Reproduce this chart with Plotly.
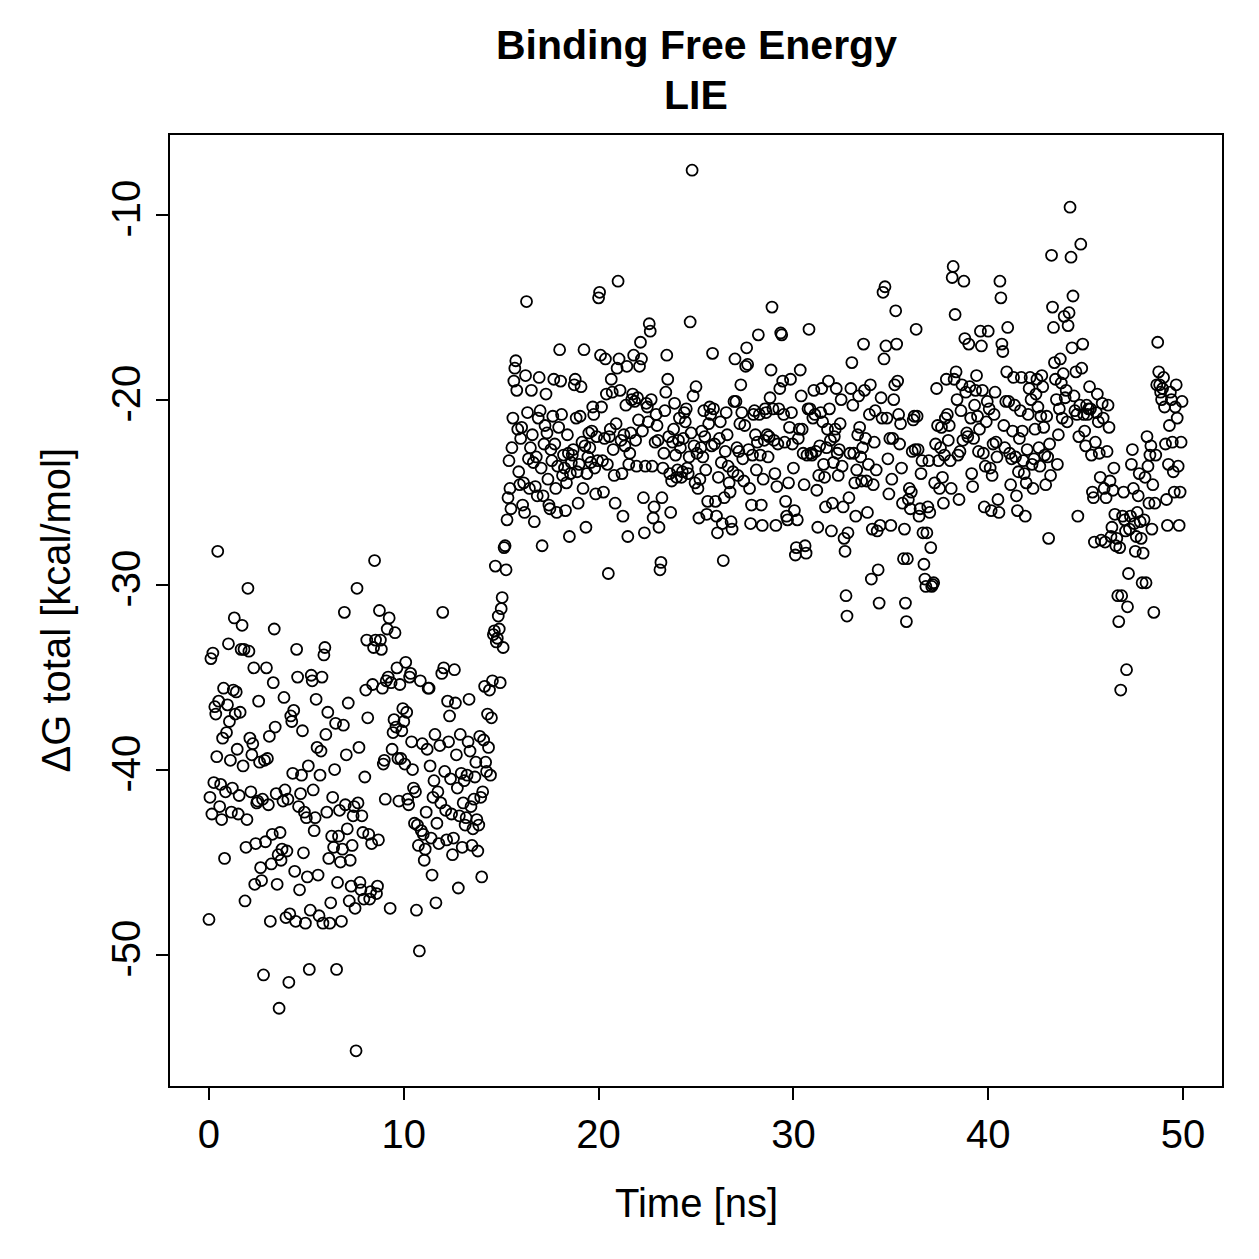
import plotly.graph_objects as go

# Binding free energy (kcal/mol), 20 samples per ns, rows = 1 ns each
dg_00_10 = [
    -48.1,-41.5,-34.0,-42.4,-33.7,-40.7,-36.6,-37.0,-39.3,-28.2,-36.3,-42.0,-40.8,-42.7,-38.3,-35.6,-44.8,-41.2,-38.0,-36.5,
    -33.2,-37.4,-39.5,-42.3,-41.0,-35.7,-31.8,-37.0,-35.8,-38.9,-42.4,-41.4,-36.9,-33.5,-32.2,-39.8,-33.5,-47.1,-44.2,-42.7,
    -30.2,-33.6,-38.3,-41.2,-39.2,-38.6,-34.5,-46.2,-44.0,-41.8,-41.7,-36.3,-39.6,-45.3,-46.0,-41.6,-51.1,-39.5,-43.9,-34.5,
    -39.4,-41.9,-38.2,-48.2,-45.1,-43.5,-35.3,-32.4,-37.7,-41.3,-46.2,-44.6,-52.9,-43.4,-44.9,-44.3,-41.7,-36.1,-41.1,-48.0,
    -44.4,-41.6,-51.5,-47.8,-37.1,-37.4,-40.2,-36.8,-45.5,-48.2,-33.5,-35.0,-42.0,-46.5,-41.3,-40.3,-37.9,-44.5,-42.3,-48.3,
    -42.6,-45.8,-39.8,-50.8,-47.6,-34.9,-35.2,-41.1,-43.3,-42.6,-36.2,-38.8,-45.7,-47.9,-40.3,-39.0,-35.0,-48.3,-33.8,-33.4,
    -38.1,-42.3,-36.9,-44.8,-48.3,-47.2,-43.6,-41.5,-44.2,-40.0,-37.5,-50.8,-46.1,-43.6,-42.2,-45.0,-48.2,-44.3,-37.6,-31.5,
    -41.9,-39.2,-43.2,-36.4,-47.1,-44.9,-46.3,-44.1,-42.5,-42.0,-47.5,-55.2,-30.2,-41.8,-38.8,-46.1,-46.5,-42.5,-43.4,-47.0,
    -40.4,-35.7,-33.0,-37.2,-43.5,-47.0,-46.6,-44.0,-35.4,-33.4,-28.7,-33.0,-46.7,-46.3,-43.8,-31.4,-33.0,-33.5,-35.6,-39.7,
    -39.5,-41.6,-35.2,-32.4,-35.0,-31.8,-47.5,-35.3,-38.9,-38.0,-37.3,-32.6,-37.7,-34.5,-39.4,-41.7,-35.4,-39.4,-37.9,-36.7,
]
dg_10_20 = [
    -37.4,-39.7,-34.2,-36.9,-41.6,-41.9,-35.0,-34.8,-38.5,-40.0,-41.0,-42.9,-41.2,-47.6,-43.0,-44.1,-49.8,-35.2,-43.3,-38.6,
    -43.5,-44.9,-44.3,-42.3,-38.9,-35.6,-35.6,-39.8,-43.7,-45.7,-41.5,-40.6,-38.1,-47.2,-42.9,-41.2,-44.0,-38.7,-41.8,-34.8,
    -31.5,-34.5,-40.1,-42.2,-43.8,-36.3,-38.5,-37.1,-40.5,-42.4,-44.6,-43.7,-34.6,-36.4,-39.2,-41.0,-46.4,-42.5,-38.1,-40.2,
    -44.2,-41.8,-40.6,-43.0,-42.6,-40.3,-38.5,-36.2,-39.0,-42.0,-44.1,-43.2,-41.6,-40.4,-39.6,-42.7,-44.4,-43.0,-38.2,-41.5,
    -45.8,-41.2,-38.4,-35.5,-39.6,-40.1,-37.0,-38.8,-35.7,-40.3,-37.2,-35.2,-32.7,-32.5,-29.0,-33.1,-32.9,-31.7,-32.4,-35.3,
    -31.3,-30.7,-33.4,-28.0,-27.9,-29.2,-26.5,-25.3,-23.3,-24.8,-25.9,-22.6,-21.0,-19.0,-18.3,-17.9,-19.5,-21.6,-23.9,-24.6,
    -22.1,-21.5,-25.7,-24.5,-26.1,-18.7,-14.7,-20.7,-23.2,-24.8,-22.6,-19.5,-21.9,-23.4,-26.6,-24.7,-23.1,-25.2,-21.0,-18.8,
    -20.6,-23.7,-27.9,-25.2,-22.4,-21.4,-19.7,-21.8,-24.3,-25.7,-25.9,-22.7,-23.3,-20.9,-18.9,-22.4,-24.8,-26.1,-23.6,-21.5,
    -17.3,-19.0,-20.8,-24.1,-23.0,-23.7,-26.0,-24.5,-21.9,-22.9,-27.4,-24.0,-23.4,-23.0,-22.7,-19.2,-18.9,-21.0,-23.9,-25.6,
    -23.5,-20.9,-19.3,-22.3,-24.8,-17.3,-22.5,-26.9,-24.0,-23.1,-21.8,-22.6,-23.4,-21.7,-20.4,-20.8,-23.7,-25.1,-22.0,-23.3,
]
dg_20_30 = [
    -14.5,-14.2,-17.6,-20.4,-23.3,-25.0,-22.1,-17.8,-19.7,-23.5,-29.4,-22.0,-21.6,-18.9,-19.6,-22.7,-24.1,-25.6,-21.3,-18.3,
    -13.6,-17.8,-19.5,-22.2,-24.0,-26.3,-21.9,-22.5,-20.3,-18.2,-27.4,-23.5,-22.9,-21.8,-20.0,-19.7,-17.6,-20.1,-22.2,-23.6,
    -19.9,-21.1,-18.2,-16.9,-17.8,-21.7,-25.3,-27.2,-23.6,-20.2,-20.4,-21.2,-15.9,-16.3,-20.0,-23.6,-26.4,-25.8,-22.3,-20.8,
    -21.4,-22.2,-26.9,-29.2,-28.8,-25.3,-23.7,-22.9,-20.6,-19.6,-17.6,-18.9,-22.0,-24.0,-26.1,-24.4,-22.3,-21.6,-20.2,-23.0,
    -24.2,-23.8,-22.2,-21.0,-22.6,-24.2,-23.9,-22.1,-20.7,-21.2,-20.5,-23.7,-24.0,-23.1,-15.8,-21.8,-7.6,-19.8,-22.5,-24.5,
    -19.3,-22.9,-24.8,-26.4,-24.3,-22.6,-21.7,-23.1,-20.6,-22.0,-23.8,-26.2,-25.5,-21.3,-20.4,-20.8,-22.5,-17.5,-20.5,-22.4,
    -25.5,-26.3,-27.2,-24.2,-22.1,-21.2,-23.4,-26.7,-28.7,-25.3,-22.8,-20.7,-21.9,-23.6,-24.5,-25.0,-26.6,-27.0,-23.9,-20.1,
    -17.8,-20.1,-22.6,-24.1,-22.8,-21.3,-19.2,-20.7,-23.2,-24.4,-21.4,-18.2,-17.2,-18.1,-22.7,-24.8,-26.7,-25.7,-23.0,-20.8,
    -20.6,-21.9,-23.8,-22.3,-16.5,-20.8,-23.0,-25.7,-26.8,-24.3,-22.2,-20.5,-20.7,-21.9,-23.1,-22.0,-19.9,-18.4,-15.0,-20.5,
    -22.2,-24.0,-26.8,-24.7,-22.4,-20.5,-19.4,-16.4,-16.5,-19.0,-20.8,-22.3,-25.5,-26.3,-26.5,-24.5,-21.5,-18.9,-20.7,-22.4,
]
dg_30_40 = [
    -23.7,-26.0,-28.4,-28.0,-26.5,-22.1,-21.6,-18.4,-19.8,-21.6,-22.9,-24.6,-27.9,-28.3,-23.0,-20.5,-16.2,-20.5,-22.9,-23.0,
    -21.0,-19.5,-20.8,-22.8,-24.9,-26.9,-24.1,-22.5,-20.7,-19.4,-21.2,-23.5,-24.2,-25.8,-22.6,-21.6,-19.0,-20.5,-22.2,-27.1,
    -25.6,-23.4,-22.0,-21.6,-19.4,-22.9,-24.1,-22.7,-21.3,-20.0,-23.6,-25.8,-27.5,-28.2,-30.6,-31.7,-27.2,-25.3,-22.9,-19.4,
    -18.0,-20.3,-22.9,-24.5,-26.3,-23.8,-21.9,-19.8,-21.5,-23.1,-24.4,-22.6,-17.0,-19.5,-22.1,-24.4,-26.1,-23.5,-20.8,-19.2,
    -29.7,-27.0,-24.6,-22.3,-20.6,-23.8,-27.1,-29.2,-31.0,-26.8,-19.9,-21.0,-14.2,-17.8,-13.9,-17.1,-21.0,-23.2,-25.1,-22.1,
    -26.8,-24.3,-22.1,-20.0,-19.2,-15.2,-17.0,-19.0,-20.8,-22.4,-21.3,-23.7,-25.6,-28.6,-27.0,-31.0,-32.0,-28.6,-25.4,-24.8,
    -25.9,-25.0,-22.8,-21.1,-20.9,-22.7,-16.2,-20.9,-22.7,-26.3,-25.9,-24.0,-23.3,-27.2,-28.9,-29.7,-30.1,-27.2,-25.8,-23.3,
    -26.1,-28.0,-30.1,-30.0,-29.9,-24.5,-22.4,-19.4,-21.4,-23.3,-24.8,-22.6,-21.5,-24.2,-25.6,-23.0,-21.0,-18.9,-20.8,-22.2,
    -21.4,-23.3,-24.8,-13.4,-12.8,-18.9,-15.4,-18.5,-20.0,-23.0,-25.4,-22.8,-20.6,-19.2,-22.2,-13.6,-16.7,-19.6,-21.8,-22.0,
    -17.0,-19.3,-21.0,-24.0,-24.7,-22.1,-20.3,-19.5,-18.7,-20.9,-22.8,-21.6,-16.3,-17.1,-19.5,-22.9,-25.8,-23.6,-21.2,-20.1,
]
dg_40_50 = [
    -16.3,-20.5,-23.7,-26.0,-24.1,-22.4,-20.8,-19.6,-22.3,-23.1,-25.4,-26.1,-13.6,-14.5,-17.0,-17.4,-21.4,-22.6,-20.1,-18.5,
    -16.1,-20.1,-22.9,-24.6,-23.2,-21.7,-18.8,-20.3,-23.1,-25.2,-26.0,-23.9,-22.1,-20.6,-18.8,-21.7,-23.3,-24.0,-26.3,-24.5,
    -22.7,-20.8,-19.4,-18.8,-20.0,-23.5,-24.8,-23.2,-21.6,-19.7,-18.9,-20.4,-22.6,-23.6,-20.9,-18.7,-19.3,-21.5,-23.0,-24.6,
    -20.9,-23.1,-27.5,-22.4,-24.1,-12.2,-15.0,-16.1,-18.0,-18.9,-20.0,-23.5,-21.9,-20.5,-17.8,-19.1,-21.0,-18.6,-15.5,-19.9,
    -19.5,-21.2,-16.0,-15.3,-9.6,-12.3,-17.2,-14.4,-19.8,-20.6,-18.5,-20.8,-26.3,-22.0,-20.3,-11.6,-18.3,-17.0,-20.8,-21.7,
    -22.5,-20.3,-20.8,-20.5,-19.3,-20.5,-23.0,-25.0,-25.3,-27.7,-22.3,-20.7,-19.7,-21.2,-22.9,-24.2,-27.6,-20.2,-21.0,-24.8,
    -27.7,-25.3,-22.8,-20.3,-21.5,-24.4,-27.4,-26.9,-24.9,-23.7,-26.2,-27.9,-27.5,-30.6,-32.0,-28.0,-35.7,-30.6,-26.3,-25.0,
    -26.5,-27.1,-34.6,-31.2,-29.4,-27.0,-26.3,-23.5,-22.7,-24.8,-26.7,-28.2,-27.4,-26.1,-25.2,-24.0,-26.6,-27.5,-29.9,-28.3,
    -26.5,-24.2,-29.9,-22.0,-23.6,-25.6,-23.0,-22.5,-27.0,-24.6,-31.5,-25.6,-23.0,-19.2,-16.9,-18.5,-19.2,-19.6,-20.0,-19.4,
    -18.8,-20.4,-22.4,-25.4,-26.8,-23.5,-21.4,-19.6,-20.0,-22.3,-23.9,-25.0,-20.4,-19.2,-21.0,-23.6,-26.8,-25.0,-22.3,-20.1,
]
dg_total = dg_00_10 + dg_10_20 + dg_20_30 + dg_30_40 + dg_40_50
sample_step_ns = 0.05
time_ns = [round(i * sample_step_ns, 2) for i in range(len(dg_total))]

x_ticks = [0, 10, 20, 30, 40, 50]
y_ticks = [-50, -40, -30, -20, -10]

ymin, ymax = min(dg_total), max(dg_total)
pad = 0.04 * (ymax - ymin)

FONT = "Liberation Sans, Arial, Helvetica, sans-serif"

fig = go.Figure(go.Scatter(
    x=time_ns, y=dg_total, mode="markers",
    marker=dict(symbol="circle-open", size=11, color="black", line=dict(width=1.8, color="black")),
    showlegend=False,
))

L, R, T, B = 170, 37, 135, 173
W = H = 1259
pw, ph = W - L - R, H - T - B

fig.update_layout(
    width=W, height=H,
    margin=dict(l=L, r=R, t=T, b=B, autoexpand=False),
    plot_bgcolor="white", paper_bgcolor="white",
    font=dict(family=FONT, color="black", size=40),
    xaxis=dict(range=[-2, 52], tickvals=x_ticks, ticktext=[str(v) for v in x_ticks],
               showgrid=False, zeroline=False, showline=True, mirror=True,
               linecolor="black", linewidth=2, ticks="outside", ticklen=12, tickwidth=2,
               tickcolor="black", tickfont=dict(size=40, family=FONT)),
    yaxis=dict(range=[ymin - pad, ymax + pad], tickvals=y_ticks, ticktext=[str(v) for v in y_ticks],
               showgrid=False, zeroline=False, showline=True, mirror=True,
               linecolor="black", linewidth=2, ticks="outside", ticklen=12, tickwidth=2,
               tickcolor="black", tickangle=-90, tickfont=dict(size=40, family=FONT)),
    annotations=[
        dict(text="<b>Binding Free Energy</b>", xref="paper", yref="paper", x=0.5,
             y=(H - B - 45) / ph, yanchor="middle", showarrow=False, font=dict(size=41, family=FONT)),
        dict(text="<b>LIE</b>", xref="paper", yref="paper", x=0.5,
             y=(H - B - 95) / ph, yanchor="middle", showarrow=False, font=dict(size=41, family=FONT)),
        dict(text="Time [ns]", xref="paper", yref="paper", x=0.5,
             y=(H - B - 1203) / ph, yanchor="middle", showarrow=False, font=dict(size=40, family=FONT)),
        dict(text="ΔG total [kcal/mol]", xref="paper", yref="paper", x=(55 - L) / pw,
             y=0.5, xanchor="center", yanchor="middle", textangle=-90, showarrow=False,
             font=dict(size=40, family=FONT)),
    ],
)

fig.write_html("out.html")
